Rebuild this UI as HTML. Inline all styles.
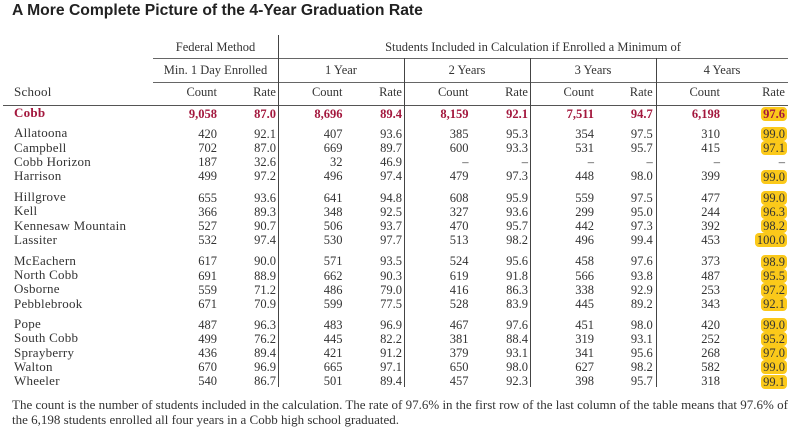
<!DOCTYPE html>
<html>
<head>
<meta charset="utf-8">
<style>
  html,body{margin:0;padding:0;background:#fff;}
  body{width:800px;height:430px;position:relative;overflow:hidden;
       font-family:"Liberation Serif",serif;font-size:12.5px;color:#333;}
  .title{position:absolute;left:12px;top:2.8px;font-family:"Liberation Sans",sans-serif;
         font-weight:bold;font-size:15.7px;line-height:15.7px;color:#222;white-space:nowrap;}
  .c{position:absolute;text-align:center;white-space:nowrap;line-height:12.5px;}
  .hl{position:absolute;height:1px;background:#666;}
  .vl{position:absolute;width:1px;background:#444;}
  .row{position:absolute;left:0;width:800px;height:13px;}
  .row span{position:absolute;top:0;white-space:nowrap;line-height:12.5px;}
  .row .n{left:14px;font-size:13px;letter-spacing:0.25px;top:-0.3px;}
  .row .a{right:583px;}
  .row .b{right:524px;}
  .row .c1{right:457.5px;}
  .row .d{right:398px;}
  .row .e{right:331.5px;}
  .row .f{right:272px;}
  .row .g{right:206px;}
  .row .h{right:147.3px;}
  .row .i{right:80px;}
  .row .j{right:13px;top:-0.7px;line-height:14px;padding:0 2px;border-radius:4px;background:#fbc91a;}
  .row .j.no{background:none;}
  .cobb span{color:#a3173d;font-weight:bold;}
  .foot{position:absolute;left:12px;white-space:nowrap;line-height:13px;font-size:13px;}
</style>
</head>
<body>
<div class="title">A More Complete Picture of the 4-Year Graduation Rate</div>

<!-- header text -->
<div class="c" style="left:153px;width:125px;top:40.5px;">Federal Method</div>
<div class="c" style="left:278px;width:510px;top:40.5px;">Students Included in Calculation if Enrolled a Minimum of</div>
<div class="c" style="left:153px;width:125px;top:63.5px;">Min. 1 Day Enrolled</div>
<div class="c" style="left:278px;width:126px;top:63.5px;">1 Year</div>
<div class="c" style="left:404px;width:126px;top:63.5px;">2 Years</div>
<div class="c" style="left:530px;width:126px;top:63.5px;">3 Years</div>
<div class="c" style="left:656px;width:132px;top:63.5px;">4 Years</div>

<div class="row" style="top:86px;">
  <span class="n">School</span>
  <span class="a">Count</span><span class="b">Rate</span>
  <span class="c1">Count</span><span class="d">Rate</span>
  <span class="e">Count</span><span class="f">Rate</span>
  <span class="g">Count</span><span class="h">Rate</span>
  <span class="i">Count</span><span style="right:15px;">Rate</span>
</div>

<!-- lines -->
<div class="hl" style="left:153px;width:635px;top:58px;"></div>
<div class="hl" style="left:153px;width:635px;top:82px;"></div>
<div class="hl" style="left:3px;width:785px;top:104.5px;background:#555;"></div>
<div class="vl" style="left:277.5px;top:35px;height:352px;"></div>
<div class="vl" style="left:403.5px;top:58px;height:329px;"></div>
<div class="vl" style="left:530px;top:58px;height:329px;"></div>
<div class="vl" style="left:655.5px;top:58px;height:329px;"></div>

<!-- data rows -->
<div class="row cobb" style="top:107.5px;"><span class="n">Cobb</span><span class="a">9,058</span><span class="b">87.0</span><span class="c1">8,696</span><span class="d">89.4</span><span class="e">8,159</span><span class="f">92.1</span><span class="g">7,511</span><span class="h">94.7</span><span class="i">6,198</span><span class="j">97.6</span></div>

<div class="row" style="top:127.5px;"><span class="n">Allatoona</span><span class="a">420</span><span class="b">92.1</span><span class="c1">407</span><span class="d">93.6</span><span class="e">385</span><span class="f">95.3</span><span class="g">354</span><span class="h">97.5</span><span class="i">310</span><span class="j">99.0</span></div>
<div class="row" style="top:141.8px;"><span class="n">Campbell</span><span class="a">702</span><span class="b">87.0</span><span class="c1">669</span><span class="d">89.7</span><span class="e">600</span><span class="f">93.3</span><span class="g">531</span><span class="h">95.7</span><span class="i">415</span><span class="j">97.1</span></div>
<div class="row" style="top:156px;"><span class="n">Cobb Horizon</span><span class="a">187</span><span class="b">32.6</span><span class="c1">32</span><span class="d">46.9</span><span class="e">–</span><span class="f">–</span><span class="g">–</span><span class="h">–</span><span class="i">–</span><span class="j no">–</span></div>
<div class="row" style="top:170.3px;"><span class="n">Harrison</span><span class="a">499</span><span class="b">97.2</span><span class="c1">496</span><span class="d">97.4</span><span class="e">479</span><span class="f">97.3</span><span class="g">448</span><span class="h">98.0</span><span class="i">399</span><span class="j">99.0</span></div>

<div class="row" style="top:191.5px;"><span class="n">Hillgrove</span><span class="a">655</span><span class="b">93.6</span><span class="c1">641</span><span class="d">94.8</span><span class="e">608</span><span class="f">95.9</span><span class="g">559</span><span class="h">97.5</span><span class="i">477</span><span class="j">99.0</span></div>
<div class="row" style="top:205.7px;"><span class="n">Kell</span><span class="a">366</span><span class="b">89.3</span><span class="c1">348</span><span class="d">92.5</span><span class="e">327</span><span class="f">93.6</span><span class="g">299</span><span class="h">95.0</span><span class="i">244</span><span class="j">96.3</span></div>
<div class="row" style="top:219.9px;"><span class="n">Kennesaw Mountain</span><span class="a">527</span><span class="b">90.7</span><span class="c1">506</span><span class="d">93.7</span><span class="e">470</span><span class="f">95.7</span><span class="g">442</span><span class="h">97.3</span><span class="i">392</span><span class="j">98.2</span></div>
<div class="row" style="top:234.1px;"><span class="n">Lassiter</span><span class="a">532</span><span class="b">97.4</span><span class="c1">530</span><span class="d">97.7</span><span class="e">513</span><span class="f">98.2</span><span class="g">496</span><span class="h">99.4</span><span class="i">453</span><span class="j">100.0</span></div>

<div class="row" style="top:255.3px;"><span class="n">McEachern</span><span class="a">617</span><span class="b">90.0</span><span class="c1">571</span><span class="d">93.5</span><span class="e">524</span><span class="f">95.6</span><span class="g">458</span><span class="h">97.6</span><span class="i">373</span><span class="j">98.9</span></div>
<div class="row" style="top:269.5px;"><span class="n">North Cobb</span><span class="a">691</span><span class="b">88.9</span><span class="c1">662</span><span class="d">90.3</span><span class="e">619</span><span class="f">91.8</span><span class="g">566</span><span class="h">93.8</span><span class="i">487</span><span class="j">95.5</span></div>
<div class="row" style="top:283.7px;"><span class="n">Osborne</span><span class="a">559</span><span class="b">71.2</span><span class="c1">486</span><span class="d">79.0</span><span class="e">416</span><span class="f">86.3</span><span class="g">338</span><span class="h">92.9</span><span class="i">253</span><span class="j">97.2</span></div>
<div class="row" style="top:297.9px;"><span class="n">Pebblebrook</span><span class="a">671</span><span class="b">70.9</span><span class="c1">599</span><span class="d">77.5</span><span class="e">528</span><span class="f">83.9</span><span class="g">445</span><span class="h">89.2</span><span class="i">343</span><span class="j">92.1</span></div>

<div class="row" style="top:318.5px;"><span class="n">Pope</span><span class="a">487</span><span class="b">96.3</span><span class="c1">483</span><span class="d">96.9</span><span class="e">467</span><span class="f">97.6</span><span class="g">451</span><span class="h">98.0</span><span class="i">420</span><span class="j">99.0</span></div>
<div class="row" style="top:332.7px;"><span class="n">South Cobb</span><span class="a">499</span><span class="b">76.2</span><span class="c1">445</span><span class="d">82.2</span><span class="e">381</span><span class="f">88.4</span><span class="g">319</span><span class="h">93.1</span><span class="i">252</span><span class="j">95.2</span></div>
<div class="row" style="top:346.9px;"><span class="n">Sprayberry</span><span class="a">436</span><span class="b">89.4</span><span class="c1">421</span><span class="d">91.2</span><span class="e">379</span><span class="f">93.1</span><span class="g">341</span><span class="h">95.6</span><span class="i">268</span><span class="j">97.0</span></div>
<div class="row" style="top:361.1px;"><span class="n">Walton</span><span class="a">670</span><span class="b">96.9</span><span class="c1">665</span><span class="d">97.1</span><span class="e">650</span><span class="f">98.0</span><span class="g">627</span><span class="h">98.2</span><span class="i">582</span><span class="j">99.0</span></div>
<div class="row" style="top:375.3px;"><span class="n">Wheeler</span><span class="a">540</span><span class="b">86.7</span><span class="c1">501</span><span class="d">89.4</span><span class="e">457</span><span class="f">92.3</span><span class="g">398</span><span class="h">95.7</span><span class="i">318</span><span class="j">99.1</span></div>

<div class="foot" style="top:398.1px;">The count is the number of students included in the calculation. The rate of 97.6% in the first row of the last column of the table means that 97.6% of</div>
<div class="foot" style="top:413.4px;">the 6,198 students enrolled all four years in a Cobb high school graduated.</div>
</body>
</html>
